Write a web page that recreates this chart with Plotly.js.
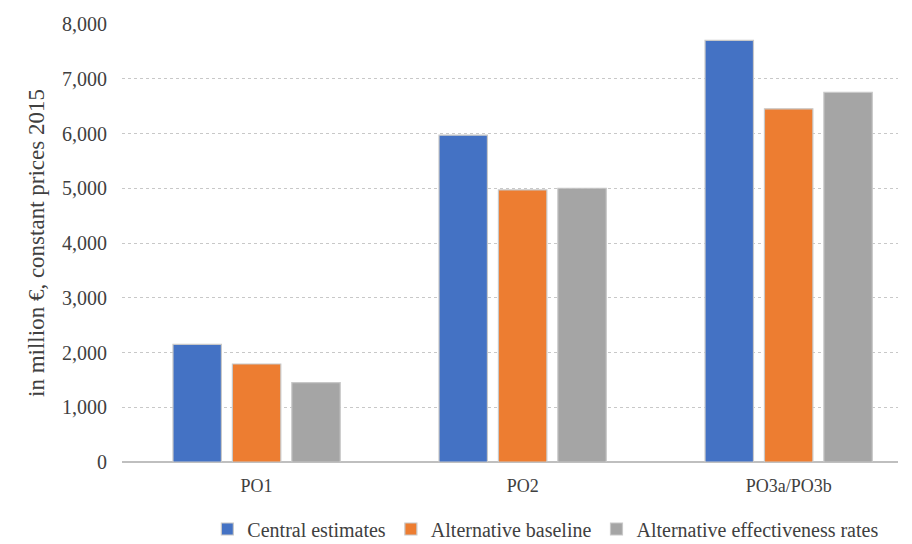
<!DOCTYPE html>
<html>
<head>
<meta charset="utf-8">
<script src="https://cdn.plot.ly/plotly-3.0.1.min.js"></script>
<style>html,body{margin:0;padding:0;background:#fff;}#chart{width:912px;height:544px;}</style>
</head>
<body>
<div id="chart"></div>
<script>
var categories = ["PO1", "PO2", "PO3a/PO3b"];
var seriesNames = ["Central estimates", "Alternative baseline", "Alternative effectiveness rates"];
var centralEstimates = [2150, 5970, 7700];
var alternativeBaseline = [1790, 4970, 6450];
var alternativeEffectiveness = [1450, 5000, 6750];
var tickValues = [0, 1000, 2000, 3000, 4000, 5000, 6000, 7000, 8000];
var tickLabels = ["0", "1,000", "2,000", "3,000", "4,000", "5,000", "6,000", "7,000", "8,000"];
var colors = ["#4472C4", "#ED7D31", "#A5A5A5"];
var allSeries = [centralEstimates, alternativeBaseline, alternativeEffectiveness];

var serif = "'Liberation Serif', 'Times New Roman', serif";
var traces = allSeries.map(function (vals, i) {
  return {
    type: "bar",
    name: seriesNames[i],
    x: categories,
    y: vals,
    marker: { color: colors[i], line: { color: "#c8c8c8", width: 1.2 } },
    hoverinfo: "x+y"
  };
});

var layout = {
  width: 912,
  height: 544,
  margin: { l: 122, r: 14, t: 24, b: 82, autoexpand: false },
  paper_bgcolor: "#fff",
  plot_bgcolor: "#fff",
  barmode: "group",
  bargap: 0.33,
  bargroupgap: 0.185,
  font: { family: serif, color: "#404040", size: 18 },
  xaxis: {
    range: [-0.506, 2.411],
    showgrid: false,
    showline: false,
    ticks: "",
    ticklabelstandoff: 11,
    tickfont: { family: serif, size: 18, color: "#404040" }
  },
  yaxis: {
    range: [0, 8000],
    tickvals: tickValues,
    ticktext: tickLabels,
    showgrid: true,
    gridcolor: "#c8c8c8",
    griddash: "dot",
    gridwidth: 1,
    zeroline: true,
    zerolinecolor: "#bfbfbf",
    zerolinewidth: 1.5,
    ticks: "",
    ticklabelstandoff: 14,
    tickfont: { family: serif, size: 20, color: "#404040" },
    title: { text: "in million €, constant prices 2015", font: { family: serif, size: 23, color: "#404040" }, standoff: 10 }
  },
  legend: {
    orientation: "h",
    x: 0.11,
    xanchor: "left",
    y: -0.153,
    yanchor: "middle",
    font: { family: serif, size: 20, color: "#404040" },
    itemwidth: 30,
    tracegroupgap: 0
  },
  showlegend: true
};

Plotly.newPlot("chart", traces, layout, { displayModeBar: false, staticPlot: true });
</script>
</body>
</html>
